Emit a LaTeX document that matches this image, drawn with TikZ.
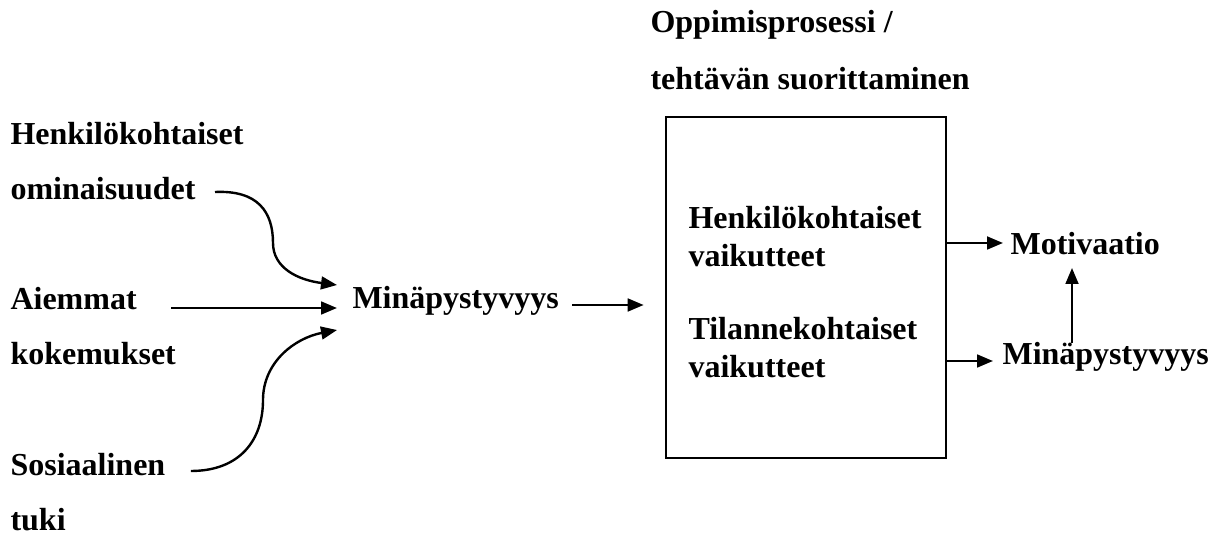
\documentclass[tikz,border=0pt]{standalone}
\usepackage{fontspec}
\setmainfont{Liberation Serif}
\usetikzlibrary{arrows.meta}
\tikzstyle{arrow} = [line width=0.9pt,-{Triangle[length=6pt,width=4.8pt]}]
\tikzstyle{txt} = [inner sep=0pt,anchor=base west,font=\bfseries\fontsize{12}{14}\selectfont]

\begin{document}
\begin{tikzpicture}[x=0.375pt,y=-0.375pt]
	\def \lx {10}
	\def \ix {688}
	\useasboundingbox (0,0) rectangle (1217,534);
	% sources
	\node (h1) at (\lx,145) [txt] {Henkilökohtaiset};
	\node (h2) at (\lx,200) [txt] {ominaisuudet};
	\node (a1) at (\lx,310) [txt] {Aiemmat};
	\node (a2) at (\lx,365) [txt] {kokemukset};
	\node (s1) at (\lx,475) [txt] {Sosiaalinen};
	\node (s2) at (\lx,530) [txt] {tuki};
	\node (mina) at (352,309) [txt] {Minäpystyvyys};
	% process
	\node (t1) at (650,33) [txt] {Oppimisprosessi /};
	\node (t2) at (650,90) [txt] {tehtävän suorittaminen};
	\node (box) at (806,287.5) [draw,line width=1pt,minimum width=105pt,minimum height=127.9pt] {};
	\node (p1) at (\ix,229) [txt] {Henkilökohtaiset};
	\node (p2) at (\ix,267) [txt] {vaikutteet};
	\node (p3) at (\ix,340) [txt] {Tilannekohtaiset};
	\node (p4) at (\ix,377) [txt] {vaikutteet};
	\node (mot) at (1010,255) [txt] {Motivaatio};
	\node (min2) at (1002,365) [txt] {Minäpystyvyys};
	% arrows
	\draw [arrow] ([shift={(19,-8)}]h2.base east) .. controls (258,190) and (273,212) .. (273,243)
		.. controls (273,268) and (298,280) .. ([shift={(-15,-24)}]mina.base west);
	\draw [arrow] ([shift={(34,-2)}]a1.base east) -- ([shift={(-15,-1)}]mina.base west);
	\draw [arrow] ([shift={(25,-4)}]s1.base east) .. controls (240,471) and (263,440) .. (263,400)
		.. controls (263,362) and (295,338) .. ([shift={(-15,21)}]mina.base west);
	\draw [arrow] ([shift={(13,-4)}]mina.base east) -- ([shift={(-21,17.5)}]box.west);
	\draw [arrow] ([shift={(0,-44.5)}]box.east) -- ([shift={(-7,-12)}]mot.base west);
	\draw [arrow] ([shift={(0,73.5)}]box.east) -- ([shift={(-9,-4)}]min2.base west);
	\draw [arrow] ([shift={(70,-22)}]min2.base west) -- ([shift={(62,13)}]mot.base west);
\end{tikzpicture}
\end{document}
